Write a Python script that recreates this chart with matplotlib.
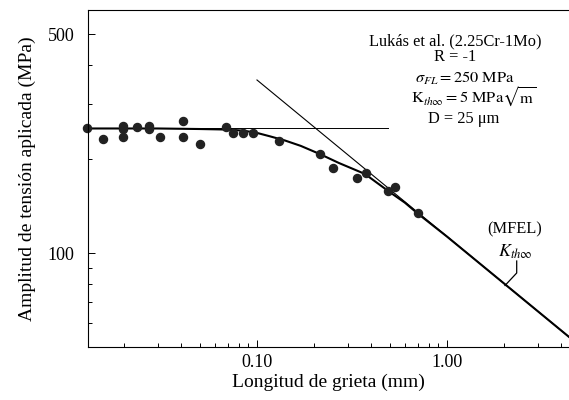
import matplotlib
matplotlib.use('Agg')
import matplotlib.pyplot as plt

plt.rcParams['font.family'] = ['Liberation Serif', 'DejaVu Serif']
plt.rcParams['mathtext.fontset'] = 'stix'

# Measured points: crack length (mm) vs stress amplitude (MPa)
crack_mm = [0.0127, 0.0154, 0.0198, 0.0198, 0.0198, 0.0233, 0.0269, 0.0269,
            0.0310, 0.0407, 0.0407, 0.0501, 0.0687, 0.0745, 0.0841, 0.0956,
            0.131, 0.215, 0.252, 0.335, 0.373, 0.491, 0.530, 0.701]
stress_mpa = [250, 231, 255, 249, 234, 253, 255, 249,
              234, 265, 234, 223, 252, 242, 242, 242,
              228, 207, 187, 174, 180, 158, 163, 134]

# Model curve (MFEL)
curve_mm = [0.0127, 0.03, 0.05, 0.07, 0.085, 0.10, 0.117, 0.14, 0.17,
            0.215, 0.27, 0.37, 0.49, 0.60, 0.70, 1.0, 2.0, 4.4]
curve_mpa = [250, 250, 249, 248, 246, 242, 236, 229, 220,
             207, 194, 179, 158, 145, 134, 113, 80, 54]

# Fatigue limit line and long crack threshold line
fl_mm = [0.0127, 0.49]
fl_mpa = [250, 250]
kth_mm = [0.1, 4.4]
kth_mpa = [357, 54]

fig = plt.figure(figsize=(5.69, 4.0), dpi=100)
ax = fig.add_axes([0.1547, 0.1325, 0.8453, 0.8425])

ax.plot(fl_mm, fl_mpa, color='black', lw=0.7)
ax.plot(kth_mm, kth_mpa, color='black', lw=0.8)
ax.plot(curve_mm, curve_mpa, color='black', lw=1.5)
ax.plot(crack_mm, stress_mpa, 'o', color='#222222', markersize=5.8, clip_on=False)

ax.set_xscale('log')
ax.set_yscale('log')
ax.set_xlim(0.0129, 4.39)
ax.set_ylim(50.2, 597)

ax.set_xticks([0.1, 1.0])
ax.set_xticklabels(['0.10', '1.00'])
ax.set_xticks([0.02, 0.03, 0.04, 0.05, 0.06, 0.07, 0.08, 0.09,
               0.2, 0.3, 0.4, 0.5, 0.6, 0.7, 0.8, 0.9, 2, 3, 4], minor=True)
ax.set_yticks([100, 500])
ax.set_yticklabels(['100', '500'])
ax.set_yticks([60, 70, 80, 90, 200, 300, 400], minor=True)
ax.yaxis.set_minor_formatter(plt.NullFormatter())
ax.xaxis.set_minor_formatter(plt.NullFormatter())
ax.tick_params(which='both', direction='in', labelsize=13, width=0.7)
ax.tick_params(which='major', length=5)
ax.tick_params(which='minor', length=3)
ax.tick_params(axis='x', which='major', pad=5)
ax.tick_params(axis='y', which='major', pad=10)
ax.spines['right'].set_visible(False)
for s in ['left', 'top', 'bottom']:
    ax.spines[s].set_linewidth(0.8)

ax.set_xlabel('Longitud de grieta (mm)', fontsize=14, labelpad=2)
ax.set_ylabel('Amplitud de tensión aplicada (MPa)', fontsize=14, labelpad=8)

# Data source text
tx = 455
fig.text(tx / 569, 1 - 41 / 400, 'Lukás et al. (2.25Cr-1Mo)', ha='center', va='center', fontsize=11.8)
fig.text(tx / 569, 1 - 57 / 400, 'R = -1', ha='center', va='center', fontsize=11.8)
fig.text(465 / 569, 1 - 78 / 400, r'$\sigma_{FL} = 250\ \mathrm{MPa}$', ha='center', va='center', fontsize=11.8)
fig.text(474 / 569, 1 - 97 / 400, r'$\mathrm{K}_{th\infty} = 5\ \mathrm{MPa}\sqrt{\mathrm{m}}$', ha='center', va='center', fontsize=11.8)
fig.text(464 / 569, 1 - 119 / 400, 'D = 25 μm', ha='center', va='center', fontsize=11.8)

# Label of threshold curve
fig.text(515 / 569, 1 - 229 / 400, '(MFEL)', ha='center', va='center', fontsize=11.8)
fig.text(515 / 569, 1 - 252 / 400, r'$K_{th\infty}$', ha='center', va='center', fontsize=13)
fig.add_artist(plt.Line2D([516.7 / 569, 516.7 / 569, 505 / 569],
                          [1 - 261 / 400, 1 - 273 / 400, 1 - 285.5 / 400],
                          color='black', lw=0.9))

fig.savefig('out.png', dpi=100)
